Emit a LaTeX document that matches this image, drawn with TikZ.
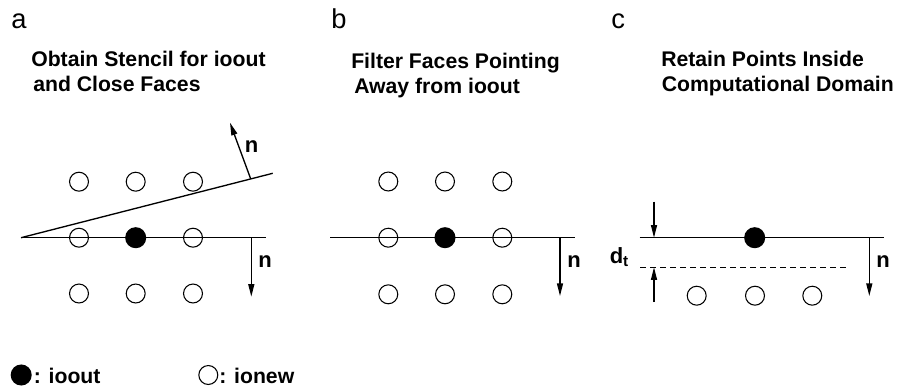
\documentclass[tikz,border=0pt]{standalone}
\usepackage{fontspec}
\setmainfont{Liberation Sans}
\usetikzlibrary{arrows.meta}
\begin{document}
\begin{tikzpicture}[x=0.75pt,y=-0.75pt,
  ln/.style={line width=1pt},
  arr/.style={line width=1pt,-{Triangle[length=9.5pt,width=4.5pt]}},
  opencirc/.style={circle,draw,line width=0.8pt,minimum size=14.2pt,inner sep=0pt},
  fullcirc/.style={circle,fill,minimum size=15.8pt,inner sep=0pt},
  head/.style={anchor=base west,inner sep=0pt,font=\fontsize{15.9}{18}\selectfont\bfseries},
  letter/.style={anchor=base west,inner sep=0pt,font=\fontsize{20.5}{24}\selectfont},
  nlab/.style={inner sep=0pt,font=\fontsize{16.5}{18}\selectfont\bfseries}]
\useasboundingbox (0,0) rectangle (897,390);

% ---------- panel a ----------
\node[letter] (la) at (11,28.3) {a};
\node[head] (ha1) at (31,66.7) {Obtain Stencil for ioout};
\node[head] (ha2) at (33,91.7) {and Close Faces};
\foreach \i/\x in {1/79,2/135.7,3/193}{
  \node[opencirc] (at\i) at (\x,181.7) {};
  \node[opencirc] (ab\i) at (\x,293.5) {};
}
\node[opencirc] (am1) at (79,237.7) {};
\node[fullcirc] (am2) at (135.7,237.7) {};
\node[opencirc] (am3) at (193,237.7) {};
\coordinate (aL) at (21,237.7);
\coordinate (aR) at (265.7,237.7);
\coordinate (aS) at (272.7,173.3);
\coordinate (aN1) at (250.7,178.9);
\coordinate (aN2) at (230,122.7);
\coordinate (aD1) at (251.3,237.7);
\coordinate (aD2) at (251.3,296.7);
\draw[ln] (aL) -- (aR);
\draw[ln] (aL) -- (aS);
\draw[arr] (aN1) -- (aN2);
\draw[arr] (aD1) -- (aD2);
\node[nlab] (an1) at (251.5,147) {n};
\node[nlab] (an2) at (265,262) {n};

% ---------- panel b ----------
\node[letter] (lb) at (331,28.3) {b};
\node[head] (hb1) at (351,68) {Filter Faces Pointing};
\node[head] (hb2) at (354,93) {Away from ioout};
\foreach \i/\x in {1/388.3,2/445,3/502.3}{
  \node[opencirc] (bt\i) at (\x,181.5) {};
  \node[opencirc] (bb\i) at (\x,294.3) {};
}
\node[opencirc] (bm1) at (388.3,237.7) {};
\node[fullcirc] (bm2) at (445,237.7) {};
\node[opencirc] (bm3) at (502.3,237.7) {};
\coordinate (bL) at (330,237.7);
\coordinate (bR) at (575,237.7);
\coordinate (bD1) at (560,237.7);
\coordinate (bD2) at (560,296);
\draw[ln] (bL) -- (bR);
\draw[arr] (bD1) -- (bD2);
\node[nlab] (bn) at (574,262) {n};

% ---------- panel c ----------
\node[letter] (lc) at (611,28.3) {c};
\node[head] (hc1) at (661,66.7) {Retain Points Inside};
\node[head] (hc2) at (661.5,91.7) {Computational Domain};
\foreach \i/\x in {1/696.7,2/755,3/812.3}{
  \node[opencirc] (cb\i) at (\x,295.7) {};
}
\node[fullcirc] (cm) at (754.7,237.7) {};
\coordinate (cL) at (639.5,237.7);
\coordinate (cR) at (884.3,237.7);
\coordinate (dL) at (640,267.3);
\coordinate (dR) at (848.3,267.3);
\coordinate (cD1) at (869.3,237.7);
\coordinate (cD2) at (869.3,296);
\coordinate (cT1) at (654,201.7);
\coordinate (cT2) at (654,237.7);
\coordinate (cU1) at (654,302);
\coordinate (cU2) at (654,267.3);
\draw[ln] (cL) -- (cR);
\draw[line width=0.8pt,dash pattern=on 4.5pt off 3pt] (dL) -- (dR);
\draw[arr] (cD1) -- (cD2);
\draw[arr] (cT1) -- (cT2);
\draw[arr] (cU1) -- (cU2);
\node[nlab] (cn) at (883,262) {n};
\node[nlab,anchor=base west] (dt) at (609.5,263) {d\raisebox{-0.3ex}{\fontsize{11.5}{12}\selectfont t}};

% ---------- legend ----------
\node[fullcirc] (legf) at (21.2,375) {};
\node[head] (legft) at (33.5,383.3) {: ioout};
\node[opencirc] (lego) at (208.3,375) {};
\node[head] (legot) at (219,383.3) {: ionew};
\end{tikzpicture}
\end{document}
